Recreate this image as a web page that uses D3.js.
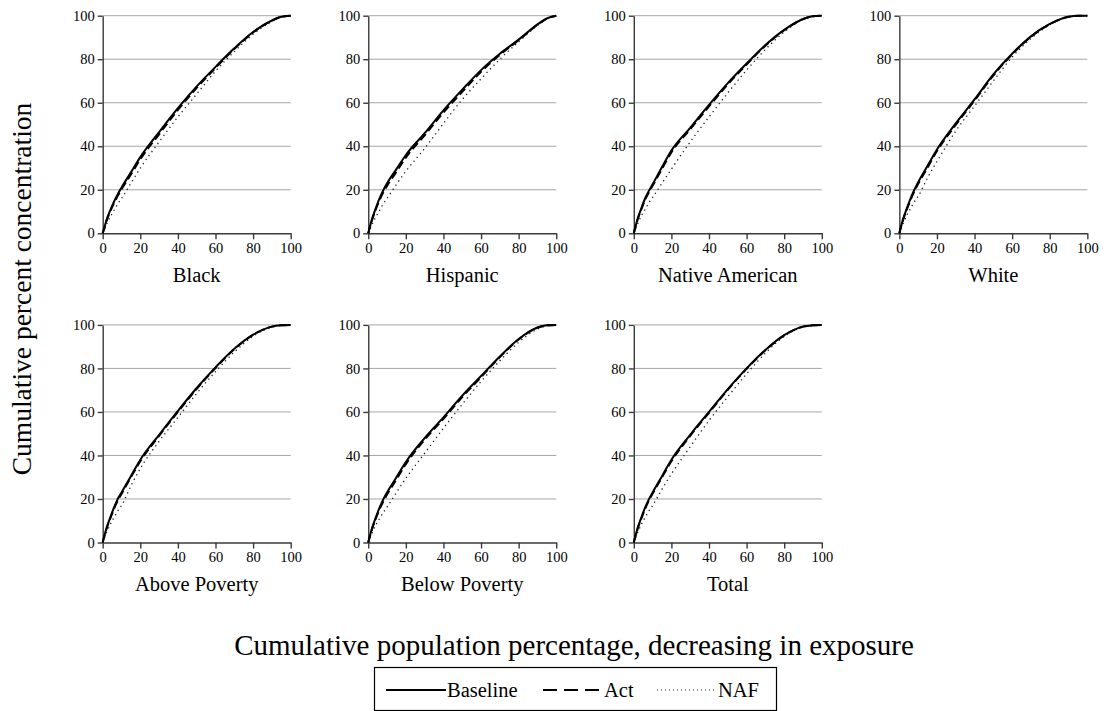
<!DOCTYPE html>
<html>
<head>
<meta charset="utf-8">
<script src="https://cdn.jsdelivr.net/npm/d3@7"></script>
<style>
  body { margin: 0; background: #fff; }
  svg { display: block; }
  svg text { font-family: "Liberation Serif", "Times New Roman", Times, "DejaVu Serif", serif; }
</style>
</head>
<body>
<svg id="svg_curves" width="1104" height="711"></svg>
<script>
// Cumulative concentration curves, one panel per group

const pctPop = [0, 1, 2, 4, 6, 8, 10, 15, 20, 30, 40, 50, 60, 70, 80, 90, 95, 100];
const yTicks = [0, 20, 40, 60, 80, 100];
const xTicks = [0, 20, 40, 60, 80, 100];

const groups = ['Black', 'Hispanic', 'Native American', 'White', 'Above Poverty', 'Below Poverty', 'Total'];
const scenarios = ['Baseline', 'Act', 'NAF'];

const blackBaseline = [0, 3, 6, 10.5, 14.5, 18, 21, 28, 35, 46.5, 57.5, 67.5, 76.5, 85, 92.5, 97.8, 99.5, 100];
const blackAct      = [0, 2.8, 5.6, 10, 13.8, 17.2, 20.2, 27, 34, 45.5, 56.7, 66.8, 76, 84.7, 92.3, 97.7, 99.5, 100];
const blackNaf      = [0, 2, 4, 7.5, 10.5, 13.5, 16, 23, 30, 42, 53.5, 64, 74.5, 83.5, 91.5, 97.3, 99.4, 100];

const hispanicBaseline = [0, 3.5, 6.5, 11.5, 16, 19.8, 23, 29.5, 36, 46, 56.5, 66, 75, 82.5, 89, 96, 98.8, 100];
const hispanicAct      = [0, 3.2, 6, 11, 15.2, 18.8, 21.8, 28.3, 34.8, 45, 55.5, 65, 74.2, 82, 88.7, 95.8, 98.7, 100];
const hispanicNaf      = [0, 2, 4, 7.5, 10.5, 13.5, 16, 22.5, 28.5, 39, 50.5, 61.5, 71, 80, 88, 95.5, 98.6, 100];

const nativeBaseline = [0, 3.5, 6.5, 11.5, 16, 19.5, 22.5, 30.5, 38, 48.5, 59, 69, 78, 86.5, 93.5, 98.5, 99.7, 100];
const nativeAct      = [0, 3.3, 6.2, 11, 15.4, 18.8, 21.8, 29.6, 37.2, 47.8, 58.3, 68.4, 77.6, 86.2, 93.3, 98.4, 99.7, 100];
const nativeNaf      = [0, 2.2, 4.3, 8, 11, 14, 16.5, 23, 29.5, 42, 53.5, 64.5, 75, 84.5, 92.5, 98.2, 99.6, 100];

const whiteBaseline = [0, 3.5, 6.5, 11.5, 16, 20, 23.5, 31, 38.5, 50.5, 61.5, 73, 82.5, 90.5, 96.2, 99.5, 100, 100];
const whiteAct      = [0, 3.3, 6.2, 11, 15.4, 19.3, 22.7, 30.2, 37.8, 49.8, 61, 72.5, 82.2, 90.3, 96.1, 99.5, 100, 100];
const whiteNaf      = [0, 2.3, 4.5, 8.3, 11.5, 14.5, 17, 25.5, 33, 47, 58.5, 70, 81, 89.5, 95.8, 99.4, 99.9, 100];

const aboveBaseline = [0, 3.5, 6.5, 11.5, 16, 20, 23, 30.5, 38, 49.5, 60.5, 71, 80.5, 89, 95.5, 99.2, 99.8, 100];
const aboveAct      = [0, 3.3, 6.2, 11, 15.4, 19.3, 22.3, 30, 37.3, 49, 60, 70.6, 80.2, 88.8, 95.4, 99.2, 99.8, 100];
const aboveNaf      = [0, 2.3, 4.5, 8.3, 11.5, 14.5, 17, 26, 34, 46.5, 57.5, 68.5, 78.5, 87.5, 94.8, 99, 99.8, 100];

const belowBaseline = [0, 3.5, 6.5, 11.5, 16, 19.8, 23, 30, 37, 48, 57.5, 67.5, 76.5, 85.5, 93.5, 98.8, 99.8, 100];
const belowAct      = [0, 3.2, 6.1, 11, 15.2, 18.8, 22, 29, 36, 47.2, 56.8, 66.8, 76, 85.2, 93.3, 98.7, 99.8, 100];
const belowNaf      = [0, 2.2, 4.3, 8, 11, 13.8, 16.3, 23, 29.5, 41, 52.5, 63.5, 74, 83.5, 92, 98, 99.6, 100];

const totalBaseline = [0, 3.5, 6.5, 11.5, 16, 19.8, 23, 30.5, 38, 49.5, 60, 70.5, 80, 88.5, 95.3, 99.2, 99.8, 100];
const totalAct      = [0, 3.3, 6.2, 11, 15.4, 19.2, 22.4, 30, 37.3, 49, 59.6, 70.2, 79.8, 88.3, 95.2, 99.2, 99.8, 100];
const totalNaf      = [0, 2.3, 4.5, 8.3, 11.5, 14.5, 17, 24.5, 31.5, 44, 56, 67, 77.5, 87, 94.7, 99, 99.8, 100];

// group -> [baseline, act, naf]
const seriesByGroup = {
    'Black': [blackBaseline, blackAct, blackNaf],
    'Hispanic': [hispanicBaseline, hispanicAct, hispanicNaf],
    'Native American': [nativeBaseline, nativeAct, nativeNaf],
    'White': [whiteBaseline, whiteAct, whiteNaf],
    'Above Poverty': [aboveBaseline, aboveAct, aboveNaf],
    'Below Poverty': [belowBaseline, belowAct, belowNaf],
    'Total': [totalBaseline, totalAct, totalNaf]
};

const serif = '"Liberation Serif", "Times New Roman", Times, "DejaVu Serif", serif';

// line look per scenario
const lineStyle = {
    'Baseline': { width: 2, dash: null, color: '#000' },
    'Act':      { width: 2, dash: '8,4', color: '#000' },
    'NAF':      { width: 1.3, dash: '1.3,3.7', color: '#222' }
};

class ConcentrationPanels {

    constructor() {
        this.svg = d3.select('#svg_curves');

        // panel grid
        this.left0 = 102.7;
        this.colStep = 265.55;
        this.top0 = 15.7;
        this.rowStep = 309.2;
        this.plotW = 188;
        this.plotH = 217.6;

        this.xScale = d3.scaleLinear().domain([0, 100]).range([0, this.plotW]);
        this.yScale = d3.scaleLinear().domain([0, 100]).range([this.plotH, 0]);
    }

    draw() {
        groups.forEach((g, i) => this.drawPanel(g, i));
        this.drawLabels();
        this.drawLegend();
    }

    drawPanel(group, i) {
        let col = i % 4, row = Math.floor(i / 4);
        let g = this.svg.append('g')
            .attr('transform', `translate(${this.left0 + col * this.colStep}, ${this.top0 + row * this.rowStep})`);

        // grid
        g.selectAll('.grid')
            .data(yTicks.filter(d => d > 0))
            .join('line')
            .attr('x1', this.xScale(0))
            .attr('x2', this.xScale(100))
            .attr('y1', d => this.yScale(d))
            .attr('y2', d => this.yScale(d))
            .attr('stroke', '#a6a6a6')
            .attr('stroke-width', 1);

        let yAxis = d3.axisLeft(this.yScale)
            .tickValues(yTicks)
            .tickSize(5)
            .tickSizeOuter(0)
            .tickPadding(3);

        let xAxis = d3.axisBottom(this.xScale)
            .tickValues(xTicks)
            .tickSize(6)
            .tickSizeOuter(0)
            .tickPadding(3);

        let ya = g.append('g').call(yAxis);
        let xa = g.append('g').attr('transform', `translate(0, ${this.plotH})`).call(xAxis);
        [ya, xa].forEach(a => {
            a.attr('font-family', serif).attr('font-size', 14.5);
            a.selectAll('path, line').attr('stroke', '#3a3a3a').attr('stroke-width', 1.4);
            a.selectAll('text').attr('fill', '#000');
        });

        // curves
        let line = d3.line()
            .x((d, j) => this.xScale(pctPop[j]))
            .y(d => this.yScale(d))
            .curve(d3.curveMonotoneX);

        let series = seriesByGroup[group];
        // draw NAF first so the solid line sits on top
        [2, 1, 0].forEach(k => {
            let st = lineStyle[scenarios[k]];
            g.append('path')
                .datum(series[k])
                .attr('d', line)
                .attr('fill', 'none')
                .attr('stroke', st.color)
                .attr('stroke-width', st.width)
                .attr('stroke-dasharray', st.dash);
        });

        g.append('text')
            .attr('x', this.plotW / 2)
            .attr('y', this.plotH + 48.5)
            .attr('text-anchor', 'middle')
            .style('font-size', '20.5px')
            .text(group);
    }

    drawLabels() {
        this.svg.append('text')
            .attr('transform', 'translate(31, 289) rotate(-90)')
            .attr('text-anchor', 'middle')
            .style('font-size', '27.5px')
            .text('Cumulative percent concentration');

        this.svg.append('text')
            .attr('x', 574)
            .attr('y', 655)
            .attr('text-anchor', 'middle')
            .style('font-size', '29px')
            .text('Cumulative population percentage, decreasing in exposure');
    }

    drawLegend() {
        let lg = this.svg.append('g');
        lg.append('rect')
            .attr('x', 374.5).attr('y', 667.5)
            .attr('width', 402).attr('height', 43)
            .attr('fill', 'none')
            .attr('stroke', '#000')
            .attr('stroke-width', 1.2);

        let items = [
            { name: 'Baseline', x: 386 },
            { name: 'Act', x: 543 },
            { name: 'NAF', x: 657 }
        ];
        let ly = 690;
        items.forEach(it => {
            let st = lineStyle[it.name];
            lg.append('line')
                .attr('x1', it.x).attr('x2', it.x + 60)
                .attr('y1', ly).attr('y2', ly)
                .attr('stroke', st.color)
                .attr('stroke-width', it.name === 'NAF' ? 1 : st.width)
                .attr('stroke-dasharray', it.name === 'Act' ? '14,7' : (it.name === 'NAF' ? '1,3' : null));
            lg.append('text')
                .attr('x', it.x + 61)
                .attr('y', ly)
                .attr('dy', '0.35em')
                .style('font-size', '20.5px')
                .text(it.name);
        });
    }
}

let chart = new ConcentrationPanels();
chart.draw();
</script>
</body>
</html>
